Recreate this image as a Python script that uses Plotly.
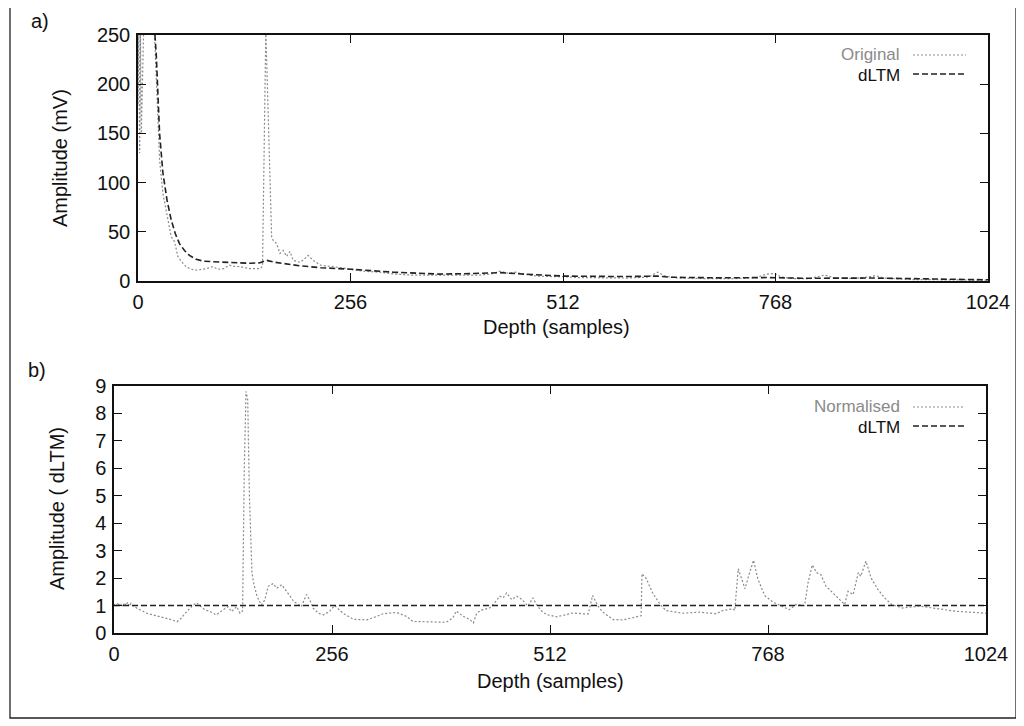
import plotly.graph_objects as go

# ---------------- data ----------------
# Panel a) Original signal (mV) vs depth (samples)
orig_depth = [0, 1, 2, 3, 4, 5, 6, 8, 12, 16, 19, 20, 24, 26, 30, 36, 40, 44, 48, 52, 58, 64, 70,
              82, 90, 96, 103, 110, 115, 123, 130, 135, 147, 150, 154, 157, 161, 163, 167, 171,
              175, 179, 183, 187, 195, 200, 205, 211, 220, 236, 245, 252, 256, 270, 290, 310,
              330, 350, 370, 390, 410, 425, 436, 445, 455, 465, 480, 500, 512, 530, 560, 590,
              615, 626, 635, 650, 680, 720, 745, 757, 767, 775, 790, 810, 827, 840, 860, 880,
              888, 900, 930, 960, 1000, 1024]
orig_amp = [180, 255, 130, 255, 150, 255, 300, 300, 300, 300, 300, 250, 164, 123, 89, 62, 45, 40,
            25, 20, 14.5, 12, 11, 12.5, 14.5, 12, 12.5, 16, 15, 14.5, 13, 12.5, 12.5, 15, 255,
            170, 45, 41, 38, 28, 31, 25, 30, 21, 19, 22, 26, 21, 16, 14.5, 13, 12.5, 12, 10, 9,
            7, 6, 6, 5.5, 5.5, 6, 7, 10, 8, 9, 7, 5, 4.5, 4.5, 3.5, 3, 3, 4, 9, 5, 3, 2.5, 2.5,
            3.5, 7, 7.5, 4, 2.5, 2.5, 6, 3, 2.5, 4, 5.5, 3, 1.5, 1.2, 1, 0.8]

# Panel a) dLTM (mV)
dltm_depth = [0, 18, 22, 26, 30, 35, 40, 45, 50, 56, 62, 70, 80, 95, 115, 135, 147, 155, 165,
              180, 195, 220, 256, 307, 363, 400, 436, 475, 514, 586, 626, 643, 700, 760, 800,
              888, 950, 1024]
dltm_amp = [300, 280, 230, 150, 110, 82, 62, 48, 38, 31, 26, 22, 20, 19.5, 18.5, 18, 18.5, 21,
            19, 17, 15.5, 13.5, 12, 9, 7, 7.5, 8.5, 6.5, 5, 4.5, 5, 3.8, 3.2, 3.5, 2.8, 3, 2,
            1.2]

# Panel b) Normalised signal (in units of dLTM)
norm_depth = [0, 2, 4, 6, 8, 10, 12, 14, 16, 18, 20, 22, 27, 34, 40, 46, 54, 62, 68, 74, 79,
              83, 87, 93, 97, 103, 107, 113, 120, 128, 134, 138, 144, 148, 151, 153, 155, 157,
              159, 162, 164, 168, 173, 177, 181, 187, 191, 197, 201, 207, 211, 214, 220, 226,
              230, 234, 240, 246, 253, 259, 265, 269, 281, 297, 308, 316, 332, 344, 351, 371,
              390, 398, 402, 410, 418, 422, 426, 433, 441, 447, 453, 457, 461, 467, 473, 479,
              486, 492, 496, 502, 508, 520, 539, 551, 557, 562, 568, 574, 586, 598, 613, 619,
              620, 625, 633, 641, 648, 668, 688, 707, 715, 727, 729, 733, 737, 741, 746, 751,
              756, 764, 774, 782, 793, 801, 811, 815, 820, 825, 830, 836, 848, 858, 862, 868,
              874, 877, 883, 889, 897, 905, 913, 926, 946, 966, 989, 1010, 1024]
norm_amp = [1.05, 0.95, 1.1, 0.98, 1.08, 0.95, 1.1, 1.0, 1.12, 0.97, 1.08, 1.0, 0.9, 0.78, 0.7,
            0.66, 0.6, 0.54, 0.48, 0.41, 0.54, 0.7, 0.84, 1.02, 1.1, 0.96, 0.84, 0.78, 0.66,
            0.84, 0.96, 0.78, 0.96, 0.72, 0.8, 6.0, 8.8, 8.5, 5.0, 2.2, 1.82, 1.33, 1.02, 1.2,
            1.7, 1.8, 1.63, 1.76, 1.57, 1.33, 1.15, 1.09, 0.96, 1.4, 1.2, 0.9, 0.72, 0.66, 0.78,
            1.0, 0.85, 0.72, 0.5, 0.48, 0.6, 0.7, 0.75, 0.6, 0.42, 0.4, 0.39, 0.55, 0.8, 0.61,
            0.49, 0.37, 0.73, 0.85, 0.91, 1.1, 1.34, 1.28, 1.46, 1.22, 1.34, 1.22, 0.98, 1.28,
            1.04, 0.8, 0.67, 0.59, 0.73, 0.7, 0.7, 1.37, 1.0, 0.76, 0.49, 0.48, 0.57, 0.63,
            2.16, 1.98, 1.43, 1.06, 0.82, 0.72, 0.76, 0.7, 0.82, 0.88, 0.82, 2.34, 1.98, 1.61,
            2.16, 2.65, 1.98, 1.37, 1.12, 1.0, 0.85, 1.04, 1.0, 1.83, 2.48, 2.2, 2.13, 1.71,
            1.34, 1.04, 1.52, 1.4, 2.2, 2.07, 2.62, 2.01, 1.59, 1.28, 1.04, 0.91, 0.98, 0.88,
            0.79, 0.75, 0.72]

# Panel b) dLTM level (normalised)
ndltm_depth = [0, 1024]
ndltm_amp = [1, 1]

x_ticks = [0, 256, 512, 768, 1024]
ya_ticks = [0, 50, 100, 150, 200, 250]
yb_ticks = [0, 1, 2, 3, 4, 5, 6, 7, 8, 9]

# ---------------- figure ----------------
# The page body keeps its default 8px margin, so the figure is 1016x718 and every
# screen position below is shifted by that offset.
OFF = 8
W, H = 1024 - OFF, 726 - OFF
FONT = "Liberation Sans, Arial, sans-serif"
FS = 20
LFS = 17
GRAY = "#8a8a8a"
DOT = "2px,2px"
DASH = "6px,3px"


def px(x):
    return (x - OFF) / W


def py(y):
    return (H - (y - OFF)) / H


fig = go.Figure()
fig.add_trace(go.Scatter(x=orig_depth, y=orig_amp, mode="lines", name="Original",
                         line=dict(color=GRAY, width=1.2, dash=DOT), xaxis="x", yaxis="y"))
fig.add_trace(go.Scatter(x=dltm_depth, y=dltm_amp, mode="lines", name="dLTM",
                         line=dict(color="#222", width=1.6, dash=DASH), xaxis="x", yaxis="y"))
fig.add_trace(go.Scatter(x=norm_depth, y=norm_amp, mode="lines", name="Normalised",
                         line=dict(color=GRAY, width=1.2, dash=DOT), xaxis="x2", yaxis="y2"))
fig.add_trace(go.Scatter(x=ndltm_depth, y=ndltm_amp, mode="lines", name="dLTM",
                         line=dict(color="#222", width=1.6, dash=DASH), xaxis="x2", yaxis="y2"))

axis_common = dict(showgrid=False, zeroline=False, showline=True, linecolor="#111",
                   linewidth=1.5, mirror="allticks", ticks="inside", ticklen=8, tickwidth=1.3,
                   tickcolor="#111", automargin=False, ticklabelstandoff=2,
                   tickfont=dict(family=FONT, size=FS, color="#111"))

fig.update_layout(
    width=W, height=H, paper_bgcolor="white", plot_bgcolor="white",
    margin=dict(l=0, r=0, t=0, b=0, autoexpand=False), showlegend=False,
    xaxis=dict(domain=[px(138), px(988)], range=[0, 1024], tickvals=x_ticks, anchor="y",
               **axis_common),
    yaxis=dict(domain=[py(281), py(35)], range=[0, 250], tickvals=ya_ticks, anchor="x",
               **axis_common),
    xaxis2=dict(domain=[px(114), px(986)], range=[0, 1024], tickvals=x_ticks, anchor="y2",
                **axis_common),
    yaxis2=dict(domain=[py(633), py(386)], range=[0, 9], tickvals=yb_ticks, anchor="x2",
                **axis_common),
)

tf = dict(family=FONT, size=FS, color="#111")
lf = dict(family=FONT, size=LFS, color="#111")
gf = dict(family=FONT, size=LFS, color=GRAY)


def note(text, x, y, font, xanchor="center", angle=0):
    return dict(text=text, x=px(x), y=py(y), xref="paper", yref="paper", showarrow=False,
                xanchor=xanchor, yanchor="middle", textangle=angle, font=font)


ann = [
    note("a)", 40, 21, tf),
    note("b)", 37, 370, tf),
    note("Amplitude (mV)", 60, 158, tf, angle=-90),
    note("Amplitude ( dLTM)", 57, 509, tf, angle=-90),
    note("Depth (samples)", 556, 327, tf),
    note("Depth (samples)", 550, 681, tf),
    note("Original", 902, 54, gf, xanchor="right"),
    note("dLTM", 902, 75, lf, xanchor="right"),
    note("Normalised", 902, 406, gf, xanchor="right"),
    note("dLTM", 902, 427, lf, xanchor="right"),
]
fig.update_layout(annotations=ann)


def hline(x0, x1, y, color, width, dash):
    return dict(type="line", xref="paper", yref="paper", x0=px(x0), x1=px(x1), y0=py(y),
                y1=py(y), line=dict(color=color, width=width, dash=dash))


shapes = [
    dict(type="rect", xref="paper", yref="paper", x0=px(10), x1=px(1016), y0=py(718),
         y1=py(6), line=dict(color="#222", width=1.3)),
    hline(913, 966, 55, GRAY, 1.2, DOT),
    hline(913, 966, 74, "#222", 1.6, DASH),
    hline(913, 964, 407, GRAY, 1.2, DOT),
    hline(913, 964, 426, "#222", 1.6, DASH),
]
fig.update_layout(shapes=shapes)

fig.write_html("out.html")
